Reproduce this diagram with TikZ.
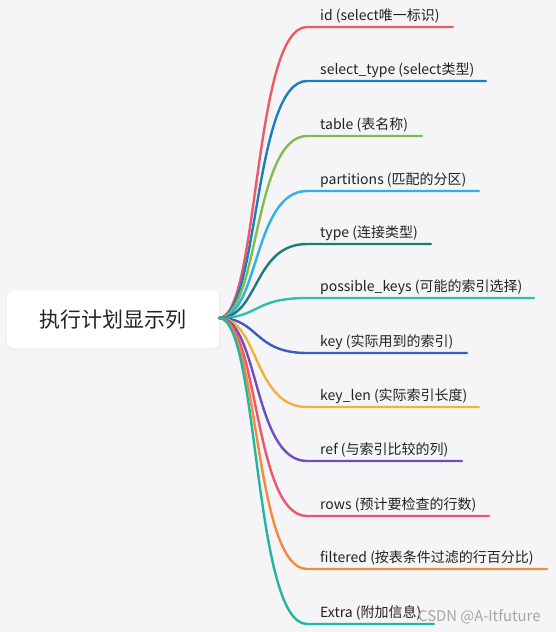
\documentclass[tikz,border=0pt]{standalone}
\usepackage{fontspec}
\usetikzlibrary{calc}
\setmainfont{Noto Sans CJK SC}
\definecolor{bg}{HTML}{F5F5F7}
\definecolor{c1}{HTML}{EE5A62}
\definecolor{c2}{HTML}{1C7EC0}
\definecolor{c3}{HTML}{82BC4E}
\definecolor{c4}{HTML}{2DB2E6}
\definecolor{c5}{HTML}{1F7A7C}
\definecolor{c6}{HTML}{2DC0B0}
\definecolor{c7}{HTML}{3B5EBE}
\definecolor{c8}{HTML}{F5B03C}
\definecolor{c9}{HTML}{6E4DBE}
\definecolor{c10}{HTML}{EE5470}
\definecolor{c11}{HTML}{F58A3A}
\definecolor{c12}{HTML}{25B59E}
\definecolor{txt}{HTML}{222222}
\begin{document}
\begin{tikzpicture}[x=1pt,y=-1pt,
  leaf/.style={anchor=base west,inner sep=0pt,font=\fontsize{14}{16}\selectfont,text=txt},
  branch/.style={line width=2.4pt,line cap=round}]
\useasboundingbox (0,0) rectangle (556,632);
\fill[bg] (0,0) rectangle (556,632);
% root shadow and box
\fill[black!6,rounded corners=7pt] (6,292) rectangle (221,351);
\node[fill=white,rounded corners=7pt,minimum width=212pt,minimum height=57pt,inner sep=0pt,font=\fontsize{21}{24}\selectfont,text=txt] (root) at (113,319.5) {执行计划显示列};
\coordinate (o) at (219,318);
\foreach \i/\y/\e/\t in {
  1/27/453/{id (select唯一标识)},
  2/81/486/{select\_type (select类型)},
  3/136/422/{table (表名称)},
  4/191/479/{partitions (匹配的分区)},
  5/244/431/{type (连接类型)},
  6/298/534/{possible\_keys (可能的索引选择)},
  7/353/467/{key (实际用到的索引)},
  8/407/479/{key\_len (实际索引长度)},
  9/461/462/{ref (与索引比较的列)},
  10/516/489/{rows (预计要检查的行数)},
  11/569/547/{filtered (按表条件过滤的行百分比)},
  12/624/434/{Extra (附加信息)}}{
  \coordinate (s\i) at (307,\y);
  \coordinate (e\i) at (\e,\y);
  \node[leaf] (t\i) at (320,\y-7) {\t};
  \draw[branch,c\i] (o) .. controls ($(o)+(40,0)$) and ($(s\i)+(-54,0)$) .. (s\i) -- (e\i);
}
\node[anchor=base west,inner sep=0pt,font=\fontsize{14.8}{16}\selectfont,text=black!35] (wm) at (418,621) {CSDN @A-Itfuture};
\end{tikzpicture}
\end{document}
